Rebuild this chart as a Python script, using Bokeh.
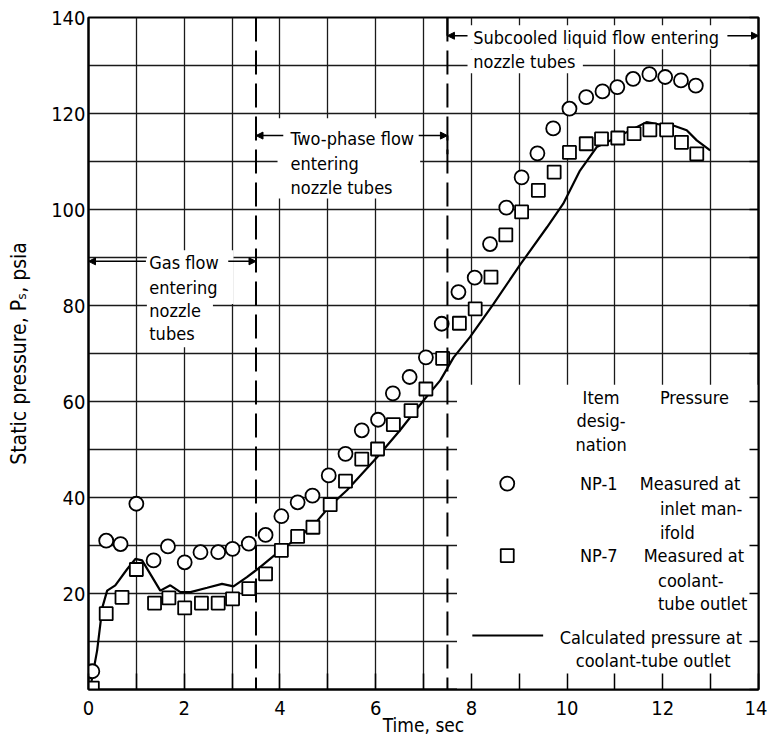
from bokeh.plotting import figure
from bokeh.models import (Range1d, FixedTicker, LinearAxis, Span, Arrow, NormalHead)
from bokeh.core.properties import value
from bokeh.embed import file_html
from bokeh.resources import INLINE

FONT = "'Liberation Sans Narrow', 'DejaVu Sans Condensed', 'Liberation Sans', sans-serif"

# NP-1 measured at inlet manifold (circles)
np1_t = [0.08, 0.37, 0.67, 1.0, 1.36, 1.66, 2.01, 2.34, 2.71, 3.01, 3.35, 3.70, 4.03, 4.37,
         4.68, 5.02, 5.37, 5.71, 6.05, 6.36, 6.71, 7.05, 7.38, 7.73, 8.07, 8.39, 8.73, 9.05,
         9.38, 9.71, 10.05, 10.40, 10.74, 11.05, 11.38, 11.72, 12.05, 12.38, 12.69]
np1_p = [3.8, 31.0, 30.3, 38.7, 26.9, 29.8, 26.5, 28.6, 28.6, 29.3, 30.4, 32.2, 36.1, 39.0,
         40.4, 44.6, 49.1, 54.0, 56.2, 61.7, 65.1, 69.2, 76.2, 82.8, 85.8, 92.8, 100.4, 106.7,
         111.7, 116.9, 121.0, 123.4, 124.6, 125.5, 127.2, 128.2, 127.6, 126.9, 125.8]

# NP-7 measured at coolant-tube outlet (squares)
np7_t = [0.08, 0.37, 0.70, 1.0, 1.38, 1.68, 2.01, 2.36, 2.71, 3.01, 3.35, 3.70, 4.03, 4.37,
         4.69, 5.05, 5.37, 5.71, 6.04, 6.37, 6.74, 7.05, 7.40, 7.75, 8.08, 8.41, 8.72, 9.05,
         9.40, 9.73, 10.05, 10.40, 10.72, 11.06, 11.40, 11.73, 12.08, 12.39, 12.71]
np7_p = [0.3, 15.8, 19.2, 25.0, 18.0, 19.1, 17.0, 18.0, 18.0, 18.9, 21.0, 24.1, 29.0, 31.9,
         33.8, 38.5, 43.4, 48.0, 50.1, 55.2, 58.1, 62.6, 69.0, 76.3, 79.3, 85.9, 94.7, 99.5,
         104.0, 107.8, 111.9, 113.7, 114.7, 114.9, 115.8, 116.6, 116.6, 114.0, 111.6]

# Calculated pressure at coolant-tube outlet (line)
calc_t = [0.04, 0.18, 0.29, 0.39, 0.56, 0.81, 0.98, 1.12, 1.29, 1.50, 1.71, 1.92, 2.13, 2.48,
          2.79, 3.03, 3.31, 3.56, 4.01, 4.29, 4.70, 5.05, 5.40, 6.03, 6.51, 7.00, 7.35, 7.63,
          7.97, 8.46, 9.02, 9.58, 9.92, 10.27, 10.62, 10.97, 11.38, 11.66, 11.94, 12.22, 12.50,
          12.71, 12.99]
calc_p = [0.5, 8.1, 17.1, 20.6, 21.7, 25.1, 27.2, 26.9, 24.1, 20.6, 21.7, 20.3, 20.3, 21.2,
          22.0, 21.5, 23.4, 25.3, 29.0, 31.0, 34.2, 38.3, 41.5, 48.4, 54.0, 60.2, 64.4, 69.2,
          73.4, 80.3, 88.5, 96.3, 101.2, 108.1, 113.0, 114.7, 116.8, 118.2, 117.7, 117.5, 116.5,
          114.4, 112.3]

x_ticks = list(range(0, 15))
y_ticks = list(range(0, 141, 10))
x_labels = {t: (str(t) if t % 2 == 0 else "") for t in x_ticks}
y_labels = {v: (str(v) if v % 20 == 0 and v > 0 else "") for v in y_ticks}

# flow-regime boundaries (sec)
boundaries = [3.5, 7.5]

p = figure(width=767, height=743, output_backend="svg", toolbar_location=None,
           x_range=Range1d(0, 14), y_range=Range1d(0, 140),
           min_border_left=88, min_border_right=9, min_border_top=17, min_border_bottom=54)
p.outline_line_color = "black"
p.outline_line_width = 2
p.background_fill_color = "white"

# axes
xa = p.xaxis[0]
xa.ticker = FixedTicker(ticks=x_ticks)
xa.major_label_overrides = x_labels
xa.major_tick_in = 16
xa.major_tick_out = 0
xa.minor_tick_in = 0
xa.minor_tick_out = 0
xa.major_label_standoff = 11
xa.axis_line_width = 2
xa.major_tick_line_width = 1.5
xa.major_label_text_font = FONT
xa.major_label_text_font_size = "20px"
xa.major_label_text_color = "black"
xa.axis_label = "Time, sec"
xa.axis_label_text_font = FONT
xa.axis_label_text_font_size = "19px"
xa.axis_label_text_font_style = "normal"
xa.axis_label_text_color = "black"
xa.axis_label_standoff = -4

ya = p.yaxis[0]
ya.ticker = FixedTicker(ticks=y_ticks)
ya.major_label_overrides = y_labels
ya.major_tick_in = 0
ya.major_tick_out = 0
ya.minor_tick_in = 0
ya.minor_tick_out = 0
ya.major_label_standoff = 3
ya.axis_line_width = 2
ya.major_label_text_font = FONT
ya.major_label_text_font_size = "20px"
ya.major_label_text_color = "black"
ya.axis_label = "Static pressure, Pₛ, psia"
ya.axis_label_text_font = FONT
ya.axis_label_text_font_size = "21px"
ya.axis_label_text_font_style = "normal"
ya.axis_label_text_color = "black"
ya.axis_label_standoff = 17

ra = LinearAxis(ticker=FixedTicker(ticks=y_ticks), major_tick_in=9, major_tick_out=0,
                minor_tick_in=0, minor_tick_out=0, major_label_text_font_size="0px",
                major_label_standoff=0, axis_line_width=2, major_tick_line_width=1.5)
ra.major_label_overrides = {v: "" for v in y_ticks}
p.add_layout(ra, "right")

for g in (p.xgrid[0], p.ygrid[0]):
    g.grid_line_color = "#1a1a1a"
    g.grid_line_width = 1.3
p.xgrid[0].ticker = FixedTicker(ticks=x_ticks)
p.ygrid[0].ticker = FixedTicker(ticks=y_ticks)

# white backgrounds behind annotation texts and legend
box_l = [1.22, 1.22, 3.95, 7.92, 7.92, 7.7]
box_r = [3.03, 2.6, 6.93, 13.3, 10.33, 14.0]
box_b = [80.3, 71.3, 102.3, 133.4, 128.4, 0.0]
box_t = [91.5, 80.3, 119.0, 138.4, 133.4, 63.5]
p.quad(left=box_l, right=box_r, bottom=box_b, top=box_t, fill_color="white", line_color=None)

# regime boundaries
for b in boundaries:
    p.add_layout(Span(location=b, dimension="height", line_color="black",
                      line_width=2, line_dash="24 9"))

# data
p.line(calc_t, calc_p, line_color="black", line_width=2.2)
p.scatter(np1_t, np1_p, marker="circle", size=14, fill_color="white",
          line_color="black", line_width=1.8)
p.scatter(np7_t, np7_p, marker="square", size=13, fill_color="white",
          line_color="black", line_width=1.8)


def txt(x, y, s, align="left", size="18px"):
    p.text(x=[x], y=[y], text=[s], text_align=align, text_baseline="middle",
           text_font=value(FONT), text_font_size=size, text_color="black")


def arrow(x0, x1, y):
    p.add_layout(Arrow(end=NormalHead(size=7, fill_color="black", line_color="black"),
                       x_start=x0, y_start=y, x_end=x1, y_end=y,
                       line_color="black", line_width=1.5))


# Gas flow annotation
arrow(1.2, 0.0, 89.2)
arrow(2.92, 3.5, 89.2)
txt(1.27, 89.0, "Gas flow")
txt(1.27, 83.8, "entering")
txt(1.27, 79.0, "nozzle")
txt(1.27, 74.2, "tubes")

# Two-phase annotation
arrow(4.07, 3.5, 115.4)
arrow(6.9, 7.5, 115.4)
p.segment(x0=[3.5, 7.5, 7.5], y0=[115.4, 115.4, 136.2], x1=[3.5, 7.5, 7.5],
          y1=[119.0, 111.5, 140.0], line_color="black", line_width=2)
txt(4.22, 114.8, "Two-phase flow")
txt(4.22, 109.6, "entering")
txt(4.22, 104.6, "nozzle tubes")

# Subcooled annotation
arrow(7.92, 7.5, 136.2)
arrow(13.35, 14.0, 136.2)
txt(8.04, 135.9, "Subcooled liquid flow entering")
txt(8.04, 130.8, "nozzle tubes")

# legend
txt(10.71, 60.8, "Item", align="center")
txt(10.71, 56.0, "desig-", align="center")
txt(10.71, 51.0, "nation", align="center")
txt(11.94, 60.8, "Pressure")
p.scatter([8.75], [42.9], marker="circle", size=14, fill_color="white",
          line_color="black", line_width=1.8)
txt(10.27, 42.9, "NP-1")
txt(11.52, 42.9, "Measured at")
txt(11.94, 37.7, "inlet man-")
txt(11.94, 32.7, "ifold")
p.scatter([8.75], [27.9], marker="square", size=13, fill_color="white",
          line_color="black", line_width=1.8)
txt(10.27, 27.9, "NP-7")
txt(11.6, 27.9, "Measured at")
txt(11.9, 22.7, "coolant-")
txt(11.9, 17.9, "tube outlet")
p.line([8.02, 9.5], [11.25, 11.25], line_color="black", line_width=2)
txt(11.75, 10.8, "Calculated pressure at", align="center")
txt(11.8, 6.0, "coolant-tube outlet", align="center")

open("out.html", "w").write(file_html(p, INLINE))
